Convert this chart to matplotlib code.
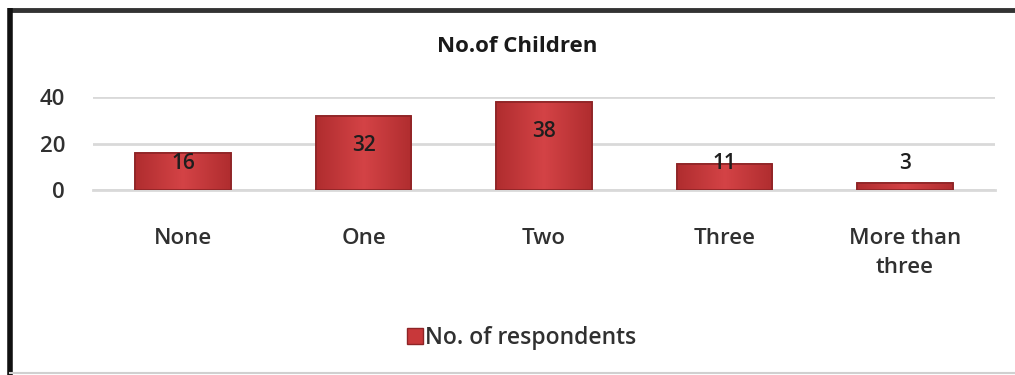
import numpy as np
import matplotlib
matplotlib.use("Agg")
from matplotlib import pyplot as plt
from matplotlib.lines import Line2D
from matplotlib.colors import LinearSegmentedColormap

categories = ["None", "One", "Two", "Three", "More than\nthree"]
respondents = [16, 32, 38, 11, 3]
y_ticks = [0, 20, 40]

title = "No.of Children"
series_name = "No. of respondents"

bar_color = "#C8383A"
edge_color = "#8E2426"
text_color = "#303030"
grid_color = "#D9D9D9"

plt.rcParams["font.family"] = ["Open Sans", "DejaVu Sans"]
plt.rcParams["font.weight"] = 600

fig = plt.figure(figsize=(10.15, 3.75), dpi=100)
ax = fig.add_axes([93 / 1015, 1 - 190 / 375, (995 - 93) / 1015, (190 - 97) / 375])

x = np.arange(len(categories))
bars = ax.bar(x, respondents, width=0.53, color=bar_color, edgecolor=edge_color,
              linewidth=1.2, zorder=3, label=series_name)

# light-to-dark shading across each bar
shade = LinearSegmentedColormap.from_list("shade", ["#B02D2F", "#D44346", "#B02D2F"])
grad = np.linspace(0, 1, 64).reshape(1, -1)
for rect in bars:
    x0, w, h = rect.get_x(), rect.get_width(), rect.get_height()
    im = ax.imshow(grad, extent=(x0, x0 + w, 0, h), cmap=shade, aspect="auto",
                   zorder=3.1, interpolation="bicubic")
    im.set_clip_path(rect)
    rect.set_facecolor("none")
    ax.bar(rect.get_x() + w / 2, h, width=w, facecolor="none", edgecolor=edge_color,
           linewidth=1.2, zorder=3.2)

# value labels sit inside the tall bars, float at a fixed height for short ones
for rect, v in zip(bars, respondents):
    ypos = max(v - 13, 11.6)
    ax.text(rect.get_x() + rect.get_width() / 2, ypos, str(v), ha="center", va="center",
            fontsize=15, color="#1E1E1E", zorder=4)

ax.set_xlim(-0.5, len(categories) - 0.5)
ax.set_ylim(0, 40)
ax.set_yticks(y_ticks)
ax.set_yticklabels([str(t) for t in y_ticks], fontsize=16, color=text_color)
ax.set_xticks(x)
ax.set_xticklabels(categories, fontsize=16, color=text_color, linespacing=1.5, va="top")
ax.tick_params(axis="y", length=0, pad=20)
ax.tick_params(axis="x", length=0, pad=27.5)

ax.yaxis.grid(True, color=grid_color, linewidth=2, zorder=0)
ax.set_axisbelow(True)
for side in ["top", "right", "left"]:
    ax.spines[side].set_visible(False)
ax.spines["bottom"].set_color(grid_color)
ax.spines["bottom"].set_linewidth(2)
ax.spines["bottom"].set_zorder(0)

fig.text(517 / 1015, 1 - 47 / 375, title, ha="center", va="center", fontsize=16,
         fontweight="bold", color="#1A1A1A")

handle = Line2D([], [], marker="s", linestyle="none", markersize=11,
                markerfacecolor=bar_color, markeredgecolor=edge_color)
fig.legend([handle], [series_name], loc="center", bbox_to_anchor=(521 / 1015, 1 - 338 / 375),
           frameon=False, fontsize=16.5, handletextpad=0.05, handlelength=0.8,
           labelcolor=text_color)

# outer frame: heavy black on top and left, faint gray at the bottom
frame = fig.add_axes([0, 0, 1, 1], zorder=-1)
frame.set_xlim(0, 1015)
frame.set_ylim(375, 0)
frame.axis("off")
frame.plot([10, 1015], [10, 10], color="#333333", linewidth=3.5, solid_capstyle="butt")
frame.plot([10, 10], [8, 375], color="#111111", linewidth=4, solid_capstyle="butt")
frame.plot([10, 1015], [373, 373], color="#D0D0D0", linewidth=1.5)

fig.savefig("out.png", dpi=100)
